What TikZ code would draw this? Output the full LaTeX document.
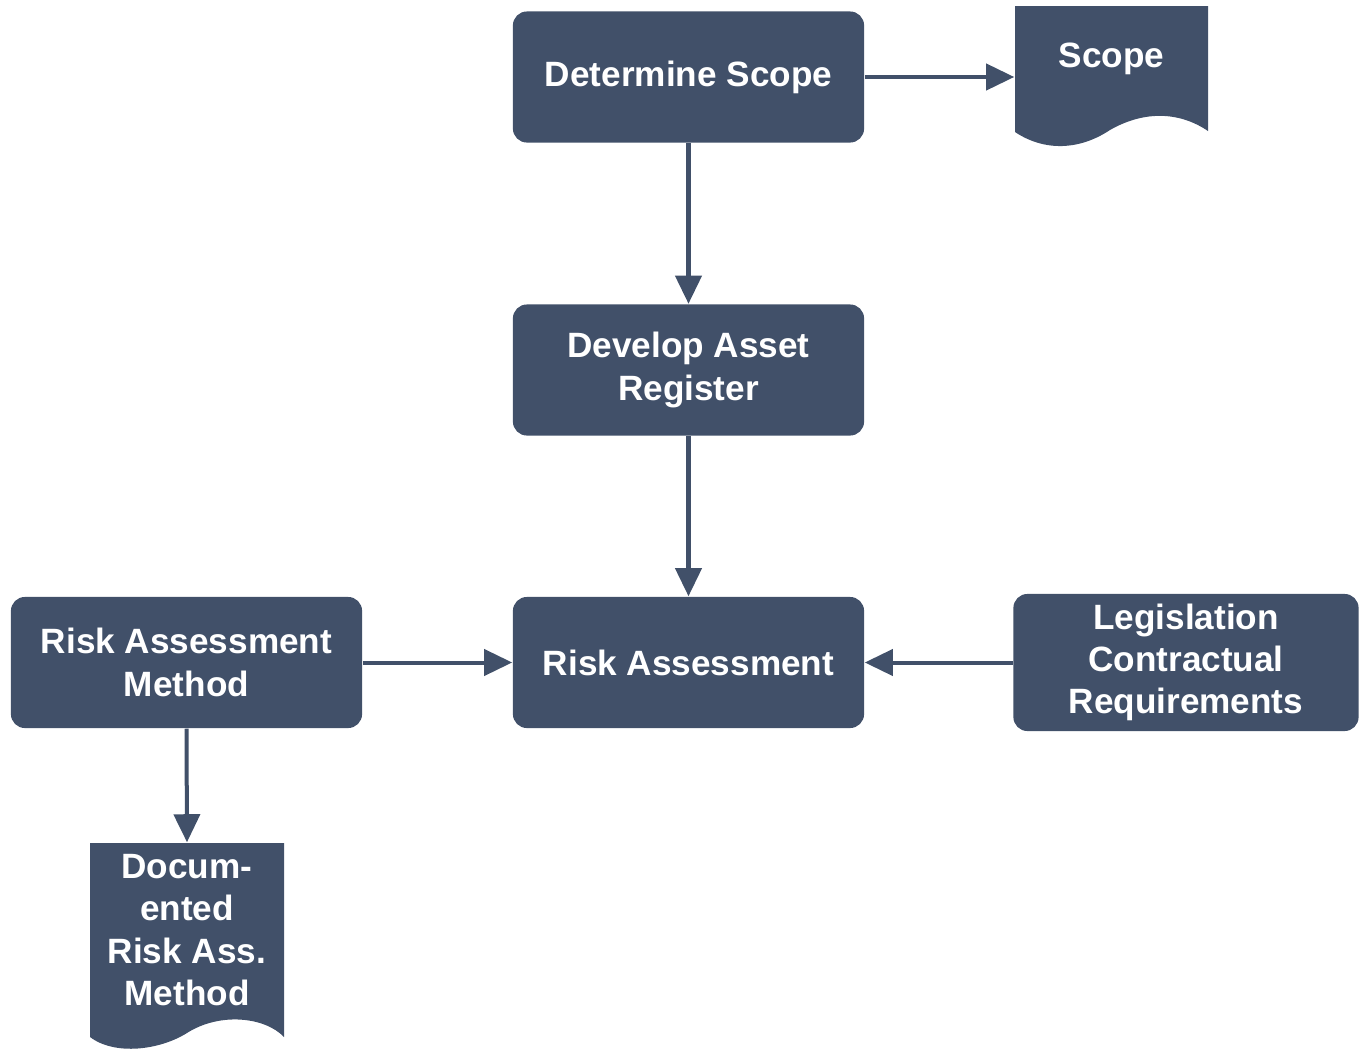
\documentclass[tikz,border=0pt]{standalone}
\usepackage{fontspec}
\setmainfont{Liberation Sans}
\usetikzlibrary{arrows.meta}
\definecolor{slate}{RGB}{65,80,105}
\tikzset{
  box/.style={fill=slate, text=white, rounded corners=0.14cm, align=center,
    minimum width=3.51cm, minimum height=1.31cm, inner sep=0pt,
    font=\fontsize{10}{12}\selectfont\bfseries},
  doctext/.style={text=white, align=center, inner sep=0pt,
    font=\fontsize{10}{12}\selectfont\bfseries},
  flow/.style={slate, line width=0.04cm, -{Triangle[length=0.28cm, width=0.26cm]}}
}

\begin{document}
\begin{tikzpicture}[x=0.01cm, y=-0.01cm]
\useasboundingbox (0,0) rectangle (1359,1051);
% Documents
    \fill[slate] (1015,6) -- (1208,6) -- (1208,131)
        .. controls (1180,112) and (1145,110) .. (1110,130)
        .. controls (1080,150) and (1045,152) .. (1015,132) -- cycle;
    \fill[slate] (90,843) -- (284,843) -- (284,1037)
        .. controls (265,1017) and (220,1012) .. (187,1033)
        .. controls (160,1050) and (115,1056) .. (90,1037) -- cycle;
    \node[doctext, minimum width=1.93cm] (scope) at (1111.5,59) {Scope};
    \node[doctext, minimum width=1.94cm, minimum height=1.74cm] (docmethod) at (187,930)
        {Docum-\\ented\\Risk Ass.\\Method};
% Boxes
    \node[box] (determine) at (688.5,77) {Determine Scope};
    \node[box] (asset) at (688.5,370) {Develop Asset\\Register};
    \node[box] (risk) at (688.5,662.5) {Risk Assessment};
    \node[box] (method) at (186.5,662.5) {Risk Assessment\\Method};
    \node[box, minimum width=3.45cm, minimum height=1.37cm] (legal) at (1186,662.5)
        {Legislation\\Contractual\\Requirements};
% Arrows
    \draw[flow] (determine.east) -- (determine.east -| scope.west);
    \draw[flow] (determine.south) -- (asset.north);
    \draw[flow] (asset.south) -- (risk.north);
    \draw[flow] (method.east) -- (risk.west);
    \draw[flow] (legal.west) -- (risk.east);
    \draw[flow] (method.south) -- (docmethod.north);
\end{tikzpicture}
\end{document}
